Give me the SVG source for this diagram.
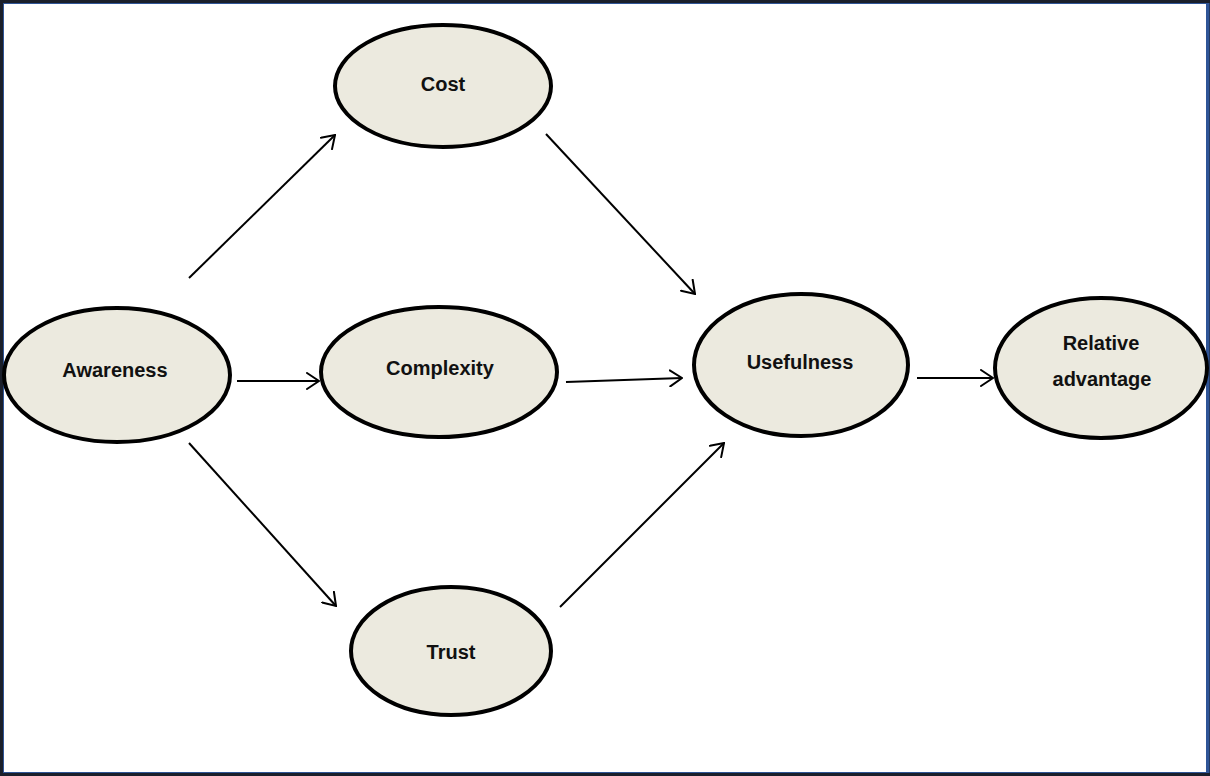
<svg xmlns="http://www.w3.org/2000/svg" width="1210" height="776" viewBox="0 0 1210 776">
  <style>
    .node ellipse { fill: #ECEADF; stroke: #000; stroke-width: 4; }
    .node text { font-family: "Liberation Sans", Arial, sans-serif; font-weight: bold; font-size: 20px; fill: #111; text-anchor: middle; }
    .edge { stroke: #000; stroke-width: 2; fill: none; marker-end: url(#open); }
  </style>
  <defs>
    <marker id="open" viewBox="0 0 14 18" refX="13" refY="9" markerWidth="14" markerHeight="18" markerUnits="userSpaceOnUse" orient="auto">
      <path d="M1,1 L13,9 L1,17" fill="none" stroke="#000" stroke-width="2" stroke-linecap="round" stroke-linejoin="miter"/>
    </marker>
  </defs>

  <!-- page frame -->
  <rect x="0" y="0" width="1210" height="776" fill="#fff"/>
  <rect x="1.5" y="1.5" width="1207" height="773" fill="none" stroke="#1a1f2b" stroke-width="3"/>
  <rect x="3.5" y="3.5" width="1203" height="769" fill="none" stroke="#2F5597" stroke-width="1"/>
  <line x1="1208" y1="3" x2="1208" y2="773" stroke="#2F5597" stroke-width="3"/>

  <g id="connectors">
    <line class="edge" x1="189" y1="278" x2="335" y2="135"/>
    <line class="edge" x1="546" y1="134" x2="695" y2="294"/>
    <line class="edge" x1="237" y1="381" x2="319" y2="381"/>
    <line class="edge" x1="566" y1="382" x2="682" y2="378"/>
    <line class="edge" x1="189" y1="443" x2="336" y2="606"/>
    <line class="edge" x1="560" y1="607" x2="724" y2="443"/>
    <line class="edge" x1="917" y1="378" x2="993" y2="378"/>
  </g>

  <g id="awareness" class="node">
    <ellipse cx="117" cy="375" rx="113" ry="67"/>
    <text x="115" y="377">Awareness</text>
  </g>
  <g id="cost" class="node">
    <ellipse cx="443" cy="86" rx="108" ry="61"/>
    <text x="443" y="91">Cost</text>
  </g>
  <g id="complexity" class="node">
    <ellipse cx="439" cy="372" rx="118" ry="65"/>
    <text x="440" y="375">Complexity</text>
  </g>
  <g id="trust" class="node">
    <ellipse cx="451" cy="651" rx="100" ry="64"/>
    <text x="451" y="659">Trust</text>
  </g>
  <g id="usefulness" class="node">
    <ellipse cx="801" cy="365" rx="107" ry="71"/>
    <text x="800" y="369">Usefulness</text>
  </g>
  <g id="relative-advantage" class="node">
    <ellipse cx="1101" cy="368" rx="106" ry="70"/>
    <text x="1101" y="350">Relative</text>
    <text x="1102" y="386">advantage</text>
  </g>
</svg>
